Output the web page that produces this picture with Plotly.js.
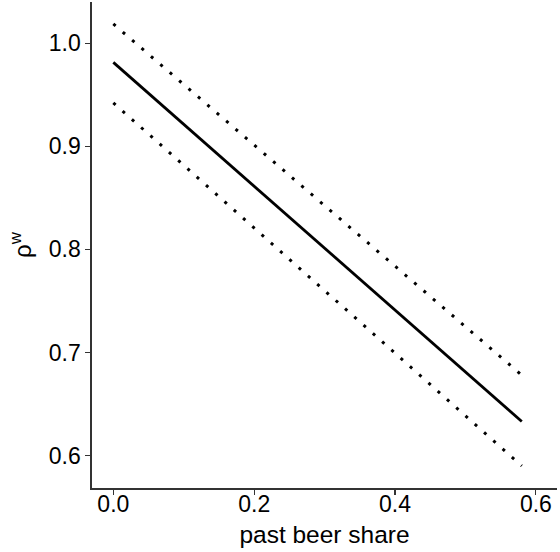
<!DOCTYPE html>
<html>
<head>
<meta charset="utf-8">
<script src="https://cdn.plot.ly/plotly-3.0.1.min.js"></script>
<style>html,body{margin:0;padding:0;background:#fff;}#chart{width:560px;height:552px;}</style>
</head>
<body>
<div id="chart"></div>
<script>
const xVals = [0.0, 0.58];
const fitVals = [0.9815, 0.633];
const upperVals = [1.0188, 0.678];
const lowerVals = [0.9423, 0.590];
const xTicks = [0.0, 0.2, 0.4, 0.6];
const xTickLabels = ["0.0", "0.2", "0.4", "0.6"];
const yTicks = [0.6, 0.7, 0.8, 0.9, 1.0];
const yTickLabels = ["0.6", "0.7", "0.8", "0.9", "1.0"];

const dotLine = {color: "#000", width: 3, dash: "3px,9.4px"};
const traces = [
  {x: xVals, y: upperVals, mode: "lines", line: dotLine, hoverinfo: "skip"},
  {x: xVals, y: lowerVals, mode: "lines", line: dotLine, hoverinfo: "skip"},
  {x: xVals, y: fitVals, mode: "lines", line: {color: "#000", width: 2.8}, hoverinfo: "skip"}
];
const fam = "Liberation Sans, Arial, sans-serif";
const layout = {
  width: 560, height: 552,
  margin: {l: 92, r: 3, t: 2, b: 64},
  paper_bgcolor: "#fff", plot_bgcolor: "#fff",
  showlegend: false,
  font: {family: fam, color: "#000"},
  xaxis: {
    range: [-0.0303, 0.630], tickvals: xTicks, ticktext: xTickLabels,
    showgrid: false, zeroline: false, showline: true, linecolor: "#333", linewidth: 1.6,
    ticks: "outside", ticklen: 5, tickwidth: 1.2, tickcolor: "#333",
    tickfont: {size: 23, color: "#000", family: fam},
    title: {text: "past beer share", font: {size: 24.5, color: "#000", family: fam}, standoff: 2}
  },
  yaxis: {
    range: [0.5685, 1.0401], tickvals: yTicks, ticktext: yTickLabels,
    showgrid: false, zeroline: false, showline: true, linecolor: "#333", linewidth: 1.6,
    ticks: "outside", ticklen: 5, tickwidth: 1.2, tickcolor: "#333",
    tickfont: {size: 23, color: "#000", family: fam},
    title: {text: "ρ<sup>w</sup>", font: {size: 24, color: "#000", family: fam}, standoff: 10}
  }
};
Plotly.newPlot("chart", traces, layout, {staticPlot: true, displayModeBar: false}).then(function () {
  // nudge x tick labels closer to the axis, as in the reference
  document.querySelectorAll(".xtick text").forEach(function (t) {
    t.setAttribute("transform", (t.getAttribute("transform") || "") + " translate(0,-10)");
  });
  var xt = document.querySelector(".g-xtitle text");
  if (xt) xt.setAttribute("transform", (xt.getAttribute("transform") || "") + " translate(0,-4)");
});
</script>
</body>
</html>
